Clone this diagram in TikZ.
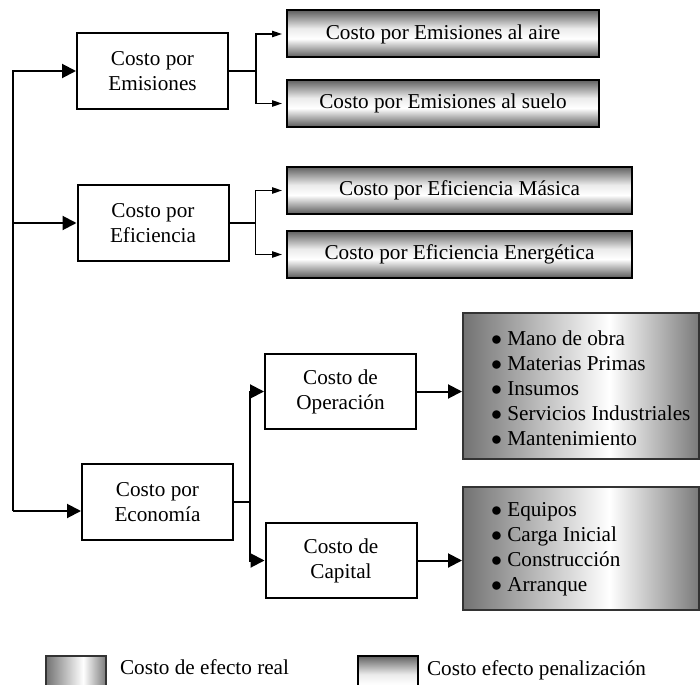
\documentclass[tikz,border=0pt]{standalone}
\usepackage{fontspec}
\setmainfont{Liberation Serif}
\usetikzlibrary{arrows.meta}
% gradients of the two kinds of cost boxes
\pgfdeclarehorizontalshading{realfx}{100bp}{color(0bp)=(black!55); color(25bp)=(black!55); color(56bp)=(white); color(75bp)=(black!52); color(100bp)=(black!52)}
\pgfdeclareverticalshading{penfx}{100bp}{color(0bp)=(black!65); color(25bp)=(black!65); color(45bp)=(white); color(56bp)=(white!92!black); color(75bp)=(black!62); color(100bp)=(black!62)}
\newcommand{\itm}{$\bullet$\ }

\begin{document}
\begin{tikzpicture}[x=0.5pt,y=-0.5pt,font=\fontsize{10.6pt}{12.5pt}\selectfont]
        		\tikzstyle{cost}=[draw=black,line width=1pt,fill=white,align=center,minimum width=75.5pt,minimum height=38pt]
        		\tikzstyle{penbox}=[draw=black,line width=1pt,shading=penfx,minimum height=23.5pt]
        		\tikzstyle{realbox}=[draw=black!80,line width=1pt,shading=realfx]
        		\tikzstyle{items}=[anchor=west,align=left]
        		\tikzstyle{edge}=[draw=black,line width=1pt]
        		\tikzstyle{thinedge}=[draw=black,line width=0.7pt]
        		\tikzstyle{bigtip}=[-{Triangle[length=7pt,width=7pt]}]
        		\tikzstyle{smalltip}=[-{Triangle[length=5pt,width=3.2pt]},shorten >=2pt]

        		\useasboundingbox (0,0) rectangle (700,684);

			         \node [cost] (em) at (152.5,71) {Costo por\\Emisiones};
			         \node [cost] (ef) at (153,223) {Costo por\\Eficiencia};
			         \node [cost] (eco) at (157.5,502) {Costo por\\Econom\'ia};
			         \node [cost,minimum height=37.5pt] (op) at (340.5,391.5) {Costo de\\Operaci\'on};
			         \node [cost,minimum height=37.5pt] (cap) at (341,560.5) {Costo de\\Capital};

			         \node [penbox,minimum width=156pt] (aire) at (443,34) {Costo por Emisiones al aire};
			         \node [penbox,minimum width=156pt] (suelo) at (443,103.5) {Costo por Emisiones al suelo};
			         \node [penbox,minimum width=172.5pt] (masica) at (459.5,190.5) {Costo por Eficiencia M\'asica};
			         \node [penbox,minimum width=172.5pt] (energ) at (459.5,254.5) {Costo por Eficiencia Energ\'etica};

			         \node [realbox,minimum width=118pt,minimum height=73pt] (oplist) at (581,386) {};
			         \node [items] (opitems) at (484,388) {\itm Mano de obra\\\itm Materias Primas\\\itm Insumos\\\itm Servicios Industriales\\\itm Mantenimiento};
			         \node [realbox,minimum width=118pt,minimum height=61.5pt] (caplist) at (581,548.5) {};
			         \node [items] (capitems) at (484,549) {\itm Equipos\\\itm Carga Inicial\\\itm Construcci\'on\\\itm Arranque};

			         % legend
			         \node [realbox,anchor=north west,minimum width=30pt,minimum height=24pt] (legreal) at (45,655) {};
			         \node [items] (legrealtxt) at (113,667) {Costo de efecto real};
			         \node [penbox,anchor=north west,minimum width=30pt,minimum height=24pt] (legpen) at (357,655) {};
			         \node [items] (legpentxt) at (420,670) {Costo efecto penalizaci\'on};

			         \coordinate (trunk) at (13,511);
			 		\path[edge,bigtip] (trunk) |- (em);
			 		\path[edge,bigtip] (trunk) |- (ef);
			 		\path[edge,bigtip] (trunk) -- ([yshift=-4.5pt]eco.west);

			 		\path[thinedge] (em.east) -- ++(27,0) coordinate (emj);
			 		\path[thinedge,smalltip] (emj) |- (aire);
			 		\path[thinedge,smalltip] (emj) |- (suelo);
			 		\path[thinedge] (ef.east) -- ++(26,0) coordinate (efj);
			 		\path[thinedge,smalltip] (efj) |- (masica);
			 		\path[thinedge,smalltip] (efj) |- (energ);

			 		\path[edge] (eco.east) -- ++(16,0) coordinate (ecoj);
			 		\path[edge,bigtip] (ecoj) |- (op);
			 		\path[edge,bigtip] (ecoj) |- (cap);
			 		\path[edge,bigtip] (op.east) -- (op.east -| oplist.west);
			 		\path[edge,bigtip] (cap.east) -- (cap.east -| caplist.west);
     		 \end{tikzpicture}
\end{document}
